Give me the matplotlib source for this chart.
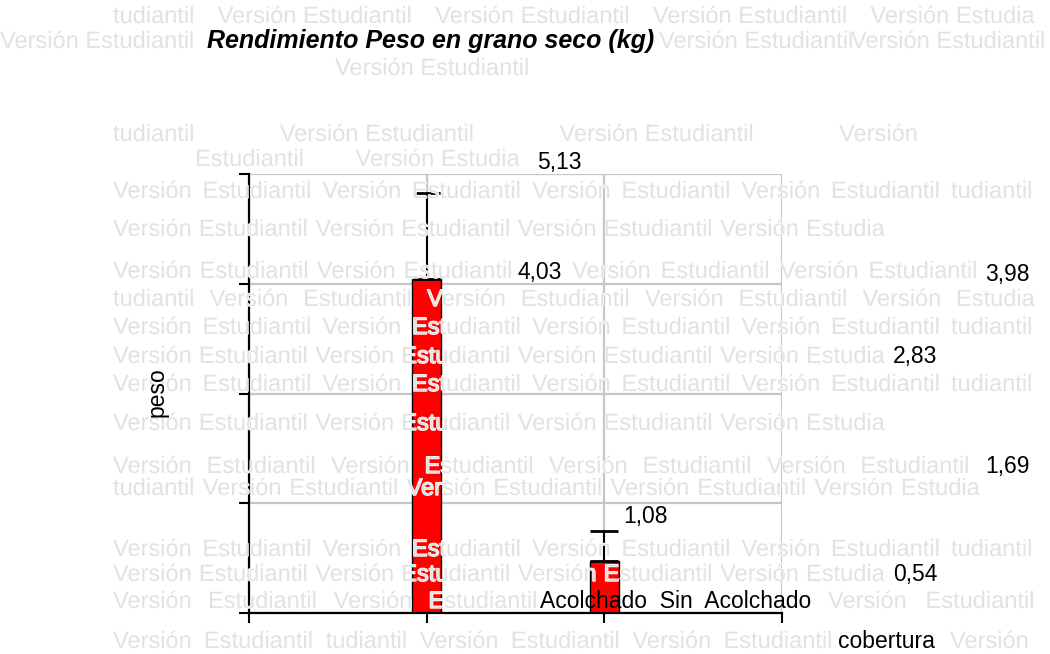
import numpy as np
import matplotlib
matplotlib.use("Agg")
import matplotlib.pyplot as plt
import matplotlib.patheffects as pe

W, H = 1050, 654

# ── data ───────────────────────────────────────────────────────────────────────
categories = ["Acolchado", "Sin Acolchado"]
means      = [4.03, 1.08]
err_upper  = [4.93, 1.40]
y_ticks    = [0.54, 1.69, 2.83, 3.98, 5.13]

title  = "Rendimiento Peso en grano seco (kg)"
xlabel = "cobertura"
ylabel = "peso"

# stray value labels (value, x px, baseline px)
tick_label_pos = [(5.13, 537, 169), (3.98, 985, 281), (2.83, 893, 363),
                  (1.69, 985, 473), (0.54, 893, 581)]
mean_label_pos = [(518, 279), (623, 523)]

# ── watermark rows ─────────────────────────────────────────────────────────────
VE = ["Versión", "Estudiantil"]
row_a = VE * 4 + ["tudiantil"]
row_b = VE * 3 + ["Versión", "Estudia"]
row_c = ["tudiantil"] + VE * 3 + ["Versión", "Estudia"]

wm_rows = [
    (15, 113, 1035, ["tudiantil", "Versión Estudiantil", "Versión Estudiantil",
                     "Versión Estudiantil", "Versión Estudia"]),
    (40, 0, None, ["Versión Estudiantil"]),
    (40, 659, 1046, ["Versión Estudiantil", "Versión Estudiantil"]),
    (67, 335, None, ["Versión Estudiantil"]),
    (133, 113, 918, ["tudiantil", "Versión Estudiantil", "Versión Estudiantil", "Versión"]),
    (158, 195, 520, ["Estudiantil", "Versión Estudia"]),
    (190, 113, 1033, row_a),
    (228, 113, 885, row_b),
    (270, 113, 513, VE * 2),
    (270, 572, 978, VE * 2),
    (298, 113, 1035, row_c),
    (326, 113, 1033, row_a),
    (355, 113, 885, row_b),
    (383, 113, 1033, row_a),
    (422, 113, 885, row_b),
    (465, 113, 970, VE * 4),
    (487, 113, 980, row_c),
    (548, 113, 1033, row_a),
    (573, 113, 885, row_b),
    (600, 113, 538, VE * 2),
    (600, 828, 1035, VE),
    (640, 113, 833, VE + ["tudiantil"] + VE * 2),
    (640, 950, None, ["Versión"]),
]

plt.rcParams["font.family"] = ["Liberation Sans", "DejaVu Sans"]

fig = plt.figure(figsize=(W / 100, H / 100), dpi=100)
ax = fig.add_axes([249 / W, 1 - 613 / H, (782 - 249) / W, (613 - 174) / H])

# ── bars + error bars ─────────────────────────────────────────────────────────
xpos = np.arange(1, len(categories) + 1)
y0 = y_ticks[0]
ax.bar(xpos, np.array(means) - y0, bottom=y0, width=0.16,
       color="#ff0000", edgecolor="black", linewidth=1, zorder=2)
ax.errorbar(xpos, means, yerr=[np.zeros(len(means)), np.array(err_upper) - np.array(means)],
            fmt="none", ecolor="black", elinewidth=1.5, capsize=10, capthick=2, zorder=3)

ax.set_xlim(0, len(categories) + 1)
ax.set_ylim(y_ticks[0], y_ticks[-1])
ax.set_xticks(np.arange(0, len(categories) + 2))
ax.set_yticks(y_ticks)
ax.set_axisbelow(True)
ax.grid(color="#c6c6c6", linewidth=1.6)
ax.tick_params(direction="out", length=7.5, width=1.5, colors="black",
               labelleft=False, labelbottom=False)
ax.spines[["top", "right"]].set_visible(False)
for s in ["left", "bottom"]:
    ax.spines[s].set_linewidth(1.6)

# ── black texts ────────────────────────────────────────────────────────────────
def fx(x): return x / W
def fy(y): return 1 - y / H

txt = dict(color="black", fontsize=16.5, zorder=6)
fig.text(fx(207), fy(48), title, fontsize=18, fontweight="bold",
         fontstyle="italic", zorder=6)
fig.text(fx(157), fy(392), ylabel, rotation=90, ha="center", va="center", **txt)
fig.text(fx(838), fy(648), xlabel, **txt)
fig.text(fx(540), fy(608), "  ".join(categories[0:1] + categories[1].split()), **txt)

for v, x, y in tick_label_pos:
    fig.text(fx(x), fy(y), f"{v:.2f}".replace(".", ","), **txt)
for v, (x, y) in zip(means, mean_label_pos):
    fig.text(fx(x), fy(y), f"{v:.2f}".replace(".", ","), **txt)

# ── watermark ──────────────────────────────────────────────────────────────────
renderer = fig.canvas.get_renderer()
wm = dict(color="#e2e2e2", fontsize=17, zorder=5,
          path_effects=[pe.withStroke(linewidth=1.0, foreground="white")])
for yc, x0, x1, groups in wm_rows:
    ts = [fig.text(0, 0, g, **wm) for g in groups]
    ws = [t.get_window_extent(renderer).width for t in ts]
    if x1 is None or len(groups) == 1:
        gap = 6.5
    else:
        gap = (x1 - x0 - sum(ws)) / (len(groups) - 1)
    x = x0
    for t, w in zip(ts, ws):
        t.set_position((fx(x), fy(yc + 8)))
        x += w + gap

fig.savefig("out.png", dpi=100)
